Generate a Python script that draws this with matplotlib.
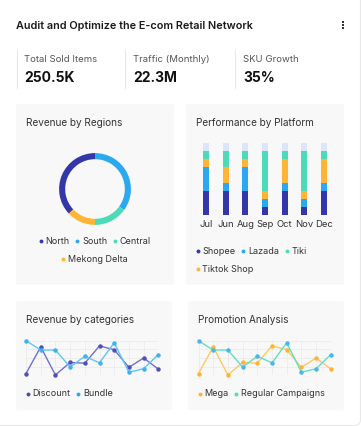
import matplotlib
matplotlib.use('Agg')
import matplotlib.pyplot as plt
from matplotlib.patches import FancyBboxPatch, Rectangle

plt.rcParams['font.family'] = ['Inter', 'DejaVu Sans']

# ---- data ----
kpi_labels = ['Total Sold Items', 'Traffic (Monthly)', 'SKU Growth']
kpi_values = ['250.5K', '22.3M', '35%']

regions = ['North', 'South', 'Central', 'Mekong Delta']
region_share = [37, 35, 15, 13]

months = ['Jul', 'Jun', 'Aug', 'Sep', 'Oct', 'Nov', 'Dec']
platforms = ['Shopee', 'Lazada', 'Tiki', 'Tiktok Shop']
shopee = [3, 3, 3, 1, 3, 1, 3]
lazada = [3, 1, 3, 1, 1, 1, 1]
tiktok = [1, 2, 1, 1, 3, 1, 3]
tiki = [1, 2, 1, 5, 1, 5, 1]
bar_max = 9

points = list(range(10))
discount = [5, 82, 1, 37, 35, 85, 74, 23, 50, 18]
bundle = [100, 73, 73, 24, 55, 36, 94, 9, 19, 60]
mega = [5, 82, 1, 37, 35, 85, 74, 23, 50, 18]
regular = [100, 73, 73, 24, 55, 36, 94, 9, 19, 60]

# ---- colours ----
NAVY = '#3337a8'
BLUE = '#2ba9ef'
TEAL = '#4cdbb8'
ORANGE = '#ffb433'
PANEL = '#f8f8f8'

W, H = 361, 426
fig = plt.figure(figsize=(W / 100, H / 100), dpi=100)
fig.patch.set_facecolor('white')

# background axes in pixel coordinates
bg = fig.add_axes([0, 0, 1, 1])
bg.set_xlim(0, W)
bg.set_ylim(H, 0)
bg.axis('off')


def px_axes(x, y, w, h):
    return fig.add_axes([x / W, 1 - (y + h) / H, w / W, h / H])


def panel(x0, y0, x1, y1):
    bg.add_patch(FancyBboxPatch((x0, y0), x1 - x0, y1 - y0,
                                boxstyle='round,pad=0,rounding_size=3',
                                fc=PANEL, ec='none'))


# outer card border
bg.add_patch(FancyBboxPatch((-6, -6), 366.5, 431.5,
                            boxstyle='round,pad=0,rounding_size=6',
                            fc='white', ec='#e8e8e8', lw=0.8))

# header
bg.text(16, 26, 'Audit and Optimize the E-com Retail Network', fontsize=7.8,
        fontweight='semibold', color='#1a1a1a', va='center', ha='left')
for yy in (22, 25, 28):
    bg.add_patch(Rectangle((341.8, yy - 0.9), 1.8, 1.8, fc='#333333', ec='none'))

for i, (x_line, x_txt) in enumerate([(17, 24), (125, 133), (235, 243)]):
    bg.plot([x_line, x_line], [50, 88], color='#e6e6e6', lw=0.8)
    bg.text(x_txt, 59, kpi_labels[i], fontsize=6.9, color='#555555', va='center')
    bg.text(x_txt, 78, kpi_values[i], fontsize=10.0, fontweight='bold',
            color='#111111', va='center')

# panels
panel(16, 104, 174, 285)
panel(186, 104, 344, 285)
panel(16, 301, 172, 410)
panel(188, 301, 344, 410)

title_kw = dict(fontsize=7.2, color='#333333', va='center', ha='left')
bg.text(26, 123, 'Revenue by Regions', **title_kw)
bg.text(196, 123, 'Performance by Platform', **title_kw)
bg.text(26, 320, 'Revenue by categories', **title_kw)
bg.text(198, 320, 'Promotion Analysis', **title_kw)

fig.canvas.draw()
renderer = fig.canvas.get_renderer()


def legend_row(items, x, y, center=False, fs=6.5):
    # items: list of (label, colour); draws dot + label side by side
    widths = []
    for lab, _ in items:
        t = bg.text(0, 0, lab, fontsize=fs)
        bb = t.get_window_extent(renderer=renderer)
        widths.append(bb.width)
        t.remove()
    dot_gap, item_gap = 6.5, 6.0
    total = sum(dot_gap + w for w in widths) + item_gap * (len(items) - 1)
    cx = x - total / 2 if center else x
    for (lab, col), w in zip(items, widths):
        bg.plot(cx + 1.5, y, 'o', ms=2.8, color=col, mec='none')
        bg.text(cx + dot_gap, y, lab, fontsize=fs, color='#333333', va='center')
        cx += dot_gap + w + item_gap


# ---- donut ----
ax = px_axes(95 - 37, 189 - 37, 74, 74)
north_angle = 90 + 360 * region_share[0] / sum(region_share)
ax.pie(region_share, colors=[NAVY, BLUE, TEAL, ORANGE], startangle=north_angle,
       counterclock=False, radius=1.0, wedgeprops=dict(width=0.17, linewidth=0))
ax.set_xlim(-1.03, 1.03)
ax.set_ylim(-1.03, 1.03)
ax.set_aspect('equal')

legend_row([(regions[0], NAVY), (regions[1], BLUE), (regions[2], TEAL)], 95, 241, center=True)
legend_row([(regions[3], ORANGE)], 95, 259, center=True)

# ---- stacked bars ----
step = (324 - 206) / 6
ax = px_axes(206 - 0.5 * step, 143, 7 * step, 72)
xs = list(range(len(months)))
bw = 6 / step
ax.bar(xs, [bar_max] * len(xs), width=bw, color='#dde4fb', lw=0)
bottom = [0] * len(xs)
for vals, col in [(shopee, NAVY), (lazada, BLUE), (tiktok, ORANGE), (tiki, TEAL)]:
    ax.bar(xs, vals, width=bw, bottom=bottom, color=col, lw=0)
    bottom = [b + v for b, v in zip(bottom, vals)]
ax.set_xlim(-0.5, 6.5)
ax.set_ylim(0, bar_max)
ax.axis('off')
for x, m in zip(xs, months):
    ax.text(x, -1.2, m, fontsize=6.8, color='#333333', ha='center', va='center')

legend_row([(platforms[0], NAVY), (platforms[1], BLUE), (platforms[2], TEAL)], 196, 251)
legend_row([(platforms[3], ORANGE)], 196, 269)


# ---- line charts ----
def line_chart(x0, s1, s2, c1, m1, c2, m2):
    ax = px_axes(x0, 340.7, 132.3, 34.6)
    ax.set_xlim(0, 9)
    ax.set_ylim(0, 100)
    for v in range(0, 101, 25):
        ax.axhline(v, color='#ebebeb', lw=0.6, zorder=0)
    for v in points:
        ax.axvline(v, color='#ebebeb', lw=0.6, zorder=0)
    ax.plot(points, s1, color=c1, lw=1.0, marker='o', ms=2.2, mfc=m1, mec=m1, clip_on=False)
    ax.plot(points, s2, color=c2, lw=1.0, marker='o', ms=2.2, mfc=m2, mec=m2, clip_on=False)
    ax.axis('off')


line_chart(26, discount, bundle, '#7070cc', '#5050b8', '#5ec6f4', '#3cb2ef')
legend_row([('Discount', '#4a4ab5'), ('Bundle', BLUE)], 26, 394)

line_chart(198.5, mega, regular, '#ffc862', ORANGE, '#62dfc3', '#4cb4ef')
legend_row([('Mega', ORANGE), ('Regular Campaigns', TEAL)], 198, 394)

fig.savefig('out.png', dpi=100, facecolor='white')
